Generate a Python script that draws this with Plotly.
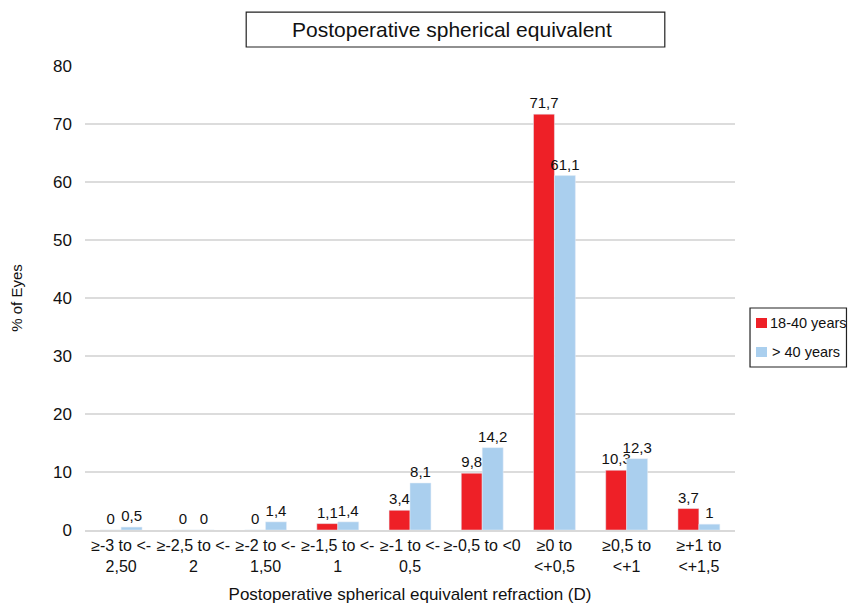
import plotly.graph_objects as go

categories = ["≥-3 to <-<br>2,50", "≥-2,5 to <-<br>2", "≥-2 to <-<br>1,50", "≥-1,5 to <-<br>1",
              "≥-1 to <-<br>0,5", "≥-0,5 to <0", "≥0 to<br><+0,5", "≥0,5 to<br><+1", "≥+1 to<br><+1,5"]
young = [0, 0, 0, 1.1, 3.4, 9.8, 71.7, 10.3, 3.7]
older = [0.5, 0, 1.4, 1.4, 8.1, 14.2, 61.1, 12.3, 1]
young_labels = ["0", "0", "0", "1,1", "3,4", "9,8", "71,7", "10,3", "3,7"]
older_labels = ["0,5", "0", "1,4", "1,4", "8,1", "14,2", "61,1", "12,3", "1"]
series_names = ["18-40 years", "> 40 years"]
colors = ["#EE2027", "#AACFEE"]

font = "Liberation Sans, Arial, sans-serif"
fig = go.Figure()
fig.add_trace(go.Bar(x=categories, y=young, name=series_names[0], marker_color=colors[0],
                     text=young_labels, textposition="outside", cliponaxis=False,
                     constraintext="none", textfont=dict(size=15, color="#111")))
fig.add_trace(go.Bar(x=categories, y=older, name=series_names[1], marker_color=colors[1],
                     text=older_labels, textposition="outside", cliponaxis=False,
                     constraintext="none", textfont=dict(size=15, color="#111")))

fig.update_layout(
    width=848, height=601,
    margin=dict(l=77, r=121, t=58, b=79, autoexpand=False),
    paper_bgcolor="white", plot_bgcolor="white",
    font=dict(family=font, size=14, color="#111"),
    barmode="group", bargap=0.42, bargroupgap=0,
    showlegend=False,
    xaxis=dict(title=dict(text="Postoperative spherical equivalent refraction (D)", font=dict(size=17), standoff=14),
               tickfont=dict(size=16), showline=True, linecolor="#d9d9d9", linewidth=2, ticks="",
               automargin=False),
    yaxis=dict(range=[0, 80], dtick=10, showgrid=True, gridcolor="#dcdcdc", gridwidth=1.5,
               zeroline=False, tickfont=dict(size=17), ticklabelstandoff=12, automargin=False,
               title=dict(text="% of Eyes", font=dict(size=15), standoff=26)),
)
# chart title box
fig.add_shape(type="rect", xref="paper", yref="paper", x0=0.248, x1=0.892, y0=1.041, y1=1.116,
              line=dict(color="#222", width=1.2), fillcolor="white")
fig.add_annotation(text="Postoperative spherical equivalent", xref="paper", yref="paper",
                   x=0.565, y=1.078, xanchor="center", yanchor="middle", showarrow=False,
                   font=dict(size=21, family=font, color="#111"))
# legend box
fig.add_shape(type="rect", xref="paper", yref="paper", x0=1.0231, x1=1.1715, y0=0.3513, y1=0.4784,
              line=dict(color="#222", width=1.2), fillcolor="white")
legend_rows = [(0.4353, 0.4569, 1.0523, 0.4461), (0.3728, 0.3944, 1.0554, 0.3836)]
for (y0, y1, tx, ty), nm, col in zip(legend_rows, series_names, colors):
    fig.add_shape(type="rect", xref="paper", yref="paper", x0=1.0323, x1=1.0492, y0=y0, y1=y1,
                  line=dict(width=0), fillcolor=col)
    fig.add_annotation(text=nm, xref="paper", yref="paper", x=tx, y=ty, xanchor="left",
                       yanchor="middle", showarrow=False, borderpad=0,
                       font=dict(size=14.5, family=font, color="#111"))
fig.write_html("out.html")
